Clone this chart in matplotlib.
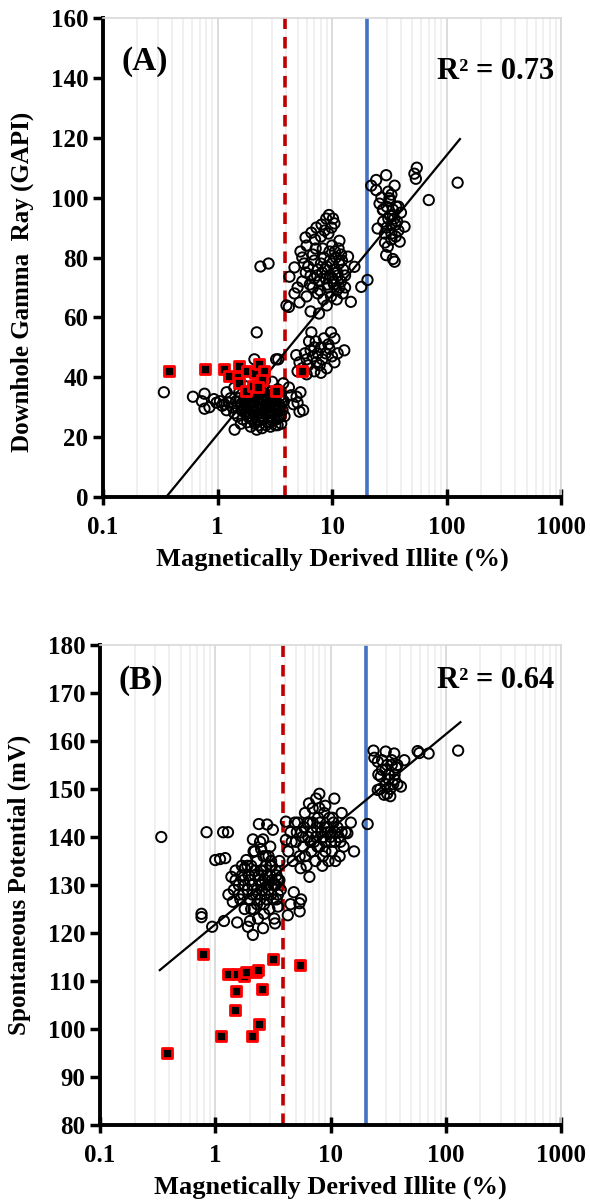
import numpy as np
import matplotlib.pyplot as plt
from matplotlib.ticker import LogLocator, FixedLocator, NullFormatter

plt.rcParams['font.family'] = ['Liberation Serif', 'DejaVu Serif']
plt.rcParams['font.weight'] = 'bold'

# ---- panel A: gamma ray vs illite ----
a_x = [0.34, 0.61, 0.73, 0.77, 0.77, 0.85, 0.93, 0.98, 1.05, 1.1, 1.15, 1.2, 1.25, 1.3, 1.35, 1.4, 1.41,
       1.45, 1.5, 1.5, 1.55, 1.6, 1.62, 1.65, 1.7, 1.72, 1.75, 1.8, 1.82, 1.85, 1.9, 1.92, 1.95, 2.0, 2.0,
       2.05, 2.1, 2.12, 2.15, 2.2, 2.25, 2.28, 2.3, 2.35, 2.4, 2.45, 2.5, 2.5, 2.55, 2.6, 2.65, 2.7, 2.75,
       2.8, 2.85, 2.9, 2.95, 3.0, 3.05, 3.1, 3.15, 3.2, 3.25, 3.3, 3.35, 3.4, 3.5, 3.55, 3.6, 3.7, 3.75,
       3.8, 3.85, 2.0, 1.75, 2.3, 2.6, 3.0, 2.9, 1.2, 1.4, 2.2, 2.45, 1.95,
       1.55, 1.65, 1.75, 1.85, 1.95, 2.05, 2.15, 2.25, 2.35, 2.45, 2.55, 2.65, 2.75, 2.85, 2.95, 3.05,
       3.15, 3.25, 3.35, 3.45, 3.55, 3.65, 1.6, 1.8, 2.0, 2.2, 2.4, 2.6, 2.8, 3.0, 3.2, 3.4, 3.6, 2.1,
       2.5, 2.9, 3.3, 1.9, 2.3, 2.7,
       4.2, 4.4, 4.9, 5.0, 5.3, 5.6, 5.2, 4.6, 3.25, 3.39, 2.1, 2.2, 2.37, 2.79,
       4.87, 5.2, 5.5, 5.8, 6.0, 6.2, 6.5, 6.6, 6.8, 7.0, 7.2, 7.3, 7.5, 7.8, 8.0, 8.2, 8.5, 8.8, 9.0,
       9.3, 9.8, 10.0, 10.5, 11.2, 12.8, 6.0, 5.0, 8.0, 9.5, 10.5, 7.0, 6.3,
       4.0, 4.2, 4.25, 4.7, 4.7, 5.2, 5.0, 5.5, 5.87, 5.5, 5.3, 6.0, 6.2, 6.6, 6.5, 6.8, 7.0, 7.2, 7.5,
       7.7, 7.5, 7.8, 8.0, 8.2, 8.4, 8.5, 8.8, 8.9, 9.0, 9.2, 9.4, 9.5, 9.6, 9.8, 10.0, 10.2, 10.5, 10.5,
       10.8, 11.0, 11.2, 11.6, 11.5, 12.0, 12.5, 13.0, 13.8, 14.6, 15.7, 18.0, 20.4, 6.0, 7.0, 8.0, 9.0,
       10.0, 11.0, 12.0, 6.5, 5.7, 7.3, 8.6, 9.9, 10.2, 13.0,
       6.8, 7.4, 7.9, 8.3, 8.7, 9.1, 9.6, 10.1, 10.6, 11.1, 11.6, 12.2, 7.1, 8.1, 9.3, 10.4, 11.4, 12.4,
       5.9, 6.4,
       22, 24.3, 24.3, 25, 26, 27.8, 28, 29, 29.7, 29.7, 30.7, 31.7, 32, 33, 33, 34, 35.2, 35.2, 36.4,
       37, 38, 39, 40, 43, 34, 31, 36, 30, 27, 33, 28, 30, 32, 34, 36, 29, 31, 35, 38, 33,
       52.4, 54, 55, 70, 125]
a_y = [35, 33.5, 32, 34.5, 29.5, 30, 32.7, 31.5, 32, 30.5, 31, 29, 31.5, 33, 30, 28, 22.5,
       32, 30, 27, 35, 31, 29, 26, 33, 30, 28, 32, 25, 29.5, 31, 27, 34, 30, 26,
       28.5, 32, 24.5, 30, 27.5, 33, 29, 25.5, 31, 28, 35, 30, 26, 32, 28.5, 24, 30, 33,
       27, 29, 25, 31.5, 28, 34, 26, 30, 24, 32, 28.5, 36, 26.5, 30, 34, 24.5, 29, 38,
       32, 27, 36, 37, 37.5, 39, 38.5, 35, 35, 36.5, 22.5, 23, 23.5,
       33, 29, 31, 27, 32, 26, 34, 30, 27, 33, 29, 31, 25, 34, 28, 30,
       33, 29, 24, 31, 27, 32, 24.5, 34, 31.5, 35.5, 29.5, 33.5, 31, 25.5, 35, 29, 33, 37,
       36, 23.5, 26, 28, 24, 35.5,
       36.6, 34, 33.5, 31.5, 35, 29, 28.5, 31, 46, 46, 46, 55, 77, 78,
       47.4, 45, 43, 48, 46, 44, 49, 55, 47, 42, 52, 45, 48, 44, 50, 46, 53, 48, 43,
       51, 55, 47, 45, 48, 49, 41, 42, 41.5, 49.5, 53, 50, 52,
       64, 63.5, 73.6, 76.7, 68, 65, 70, 72, 86.7, 80, 82, 84, 77, 88.3, 74, 70, 79, 83, 68,
       61.3, 76, 72, 87, 75, 66, 80, 73, 93, 77, 70, 94.2, 82, 74, 67, 78, 72, 91.4, 76,
       80, 69, 74, 85.6, 78, 72, 76, 70, 80.3, 65.2, 76.9, 70.2, 72.5, 67, 73, 78, 64,
       84, 66, 81, 62, 78, 90, 89, 90, 93, 74,
       81, 74, 69, 83, 76, 71, 79, 73, 82, 75, 70, 79, 86, 91, 88, 71, 83, 68,
       75, 71,
       104, 105.9, 102.5, 89.7, 98, 95.9, 92, 88, 107.5, 80.8, 83.6, 99.8, 94, 91, 86, 96, 104, 78.6, 97,
       92, 89, 85.3, 95, 90.3, 79.5, 93, 87, 97, 100, 101, 96, 90, 99, 94, 91, 85, 102, 93, 97, 88,
       108, 106.3, 110, 99.2, 105]
a_red_x = [0.38, 0.78, 1.13, 1.27, 1.55, 1.5, 1.53, 1.82, 2.13, 2.31, 2.54, 2.44, 1.77, 2.03, 2.25, 3.21, 5.45]
a_red_y = [42, 42.8, 42.8, 40.4, 43.9, 40.2, 38, 42, 41.5, 44.4, 42, 39, 35.5, 37, 36.6, 35.5, 42.1]
a_fit = (46.6, 20.9)       # y = m*log10(x) + c
a_fit_range = (0.356, 131)

# ---- panel B: spontaneous potential vs illite ----
b_x = [0.34, 0.76, 0.76, 0.84, 0.94, 1.0, 1.1, 1.17, 1.22, 1.29, 1.19,
       1.38, 1.42, 1.45, 1.5, 1.55, 1.6, 1.65, 1.7, 1.75, 1.8, 1.86, 1.9, 1.92, 1.95, 2.0, 2.05, 2.1,
       2.12, 2.12, 2.15, 2.2, 2.25, 2.3, 2.35, 2.39, 2.4, 2.45, 2.5, 2.55, 2.6, 2.62, 2.65, 2.7, 2.75,
       2.8, 2.82, 2.85, 2.9, 2.95, 3.0, 3.05, 3.1, 3.16, 3.2, 3.25, 3.3, 3.35, 3.4, 3.5, 3.6, 3.7, 2.2,
       2.5, 1.8, 3.0, 2.0, 2.6, 2.3, 3.5, 1.3,
       1.5, 1.6, 1.7, 1.8, 1.9, 2.0, 2.1, 2.2, 2.3, 2.4, 2.5, 2.6, 2.7, 2.8, 2.9, 3.0, 3.1, 3.2, 3.3,
       3.4, 3.5, 3.6, 2.15, 2.45, 2.75, 3.05, 3.35, 1.75, 2.05, 2.65,
       4.1, 4.1, 4.26, 5.37, 5.55, 5.4, 6.56, 4.5, 4.8,
       4.3, 4.5, 4.7, 5.0, 5.2, 5.4, 5.6, 5.8, 6.0, 6.2, 6.4, 6.6, 6.8, 7.0, 7.2, 7.4, 7.6, 7.8, 8.0,
       8.0, 8.3, 8.6, 8.8, 9.0, 9.3, 9.6, 9.8, 10.0, 10.3, 10.6, 10.8, 11.0, 11.5, 12.0, 12.5, 13.0,
       14.0, 15.0, 16.0, 21.0, 6.5, 7.5, 9.0, 5.5, 8.5, 11.0, 12.5,
       4.6, 5.1, 5.7, 6.3, 6.9, 7.5, 8.1, 8.7, 9.4, 10.1, 10.9, 11.8, 4.9, 5.9, 6.7, 7.7, 8.9, 10.4,
       12.2, 13.5, 6.0, 7.0, 8.0, 9.0, 10.0,
       23.6, 24, 25.7, 25.7, 27.3, 28, 29.2, 30.1, 30, 31, 32, 33, 34, 35.7, 36, 37, 38, 40.8, 43.7,
       33, 26, 28, 30, 32, 34, 36, 27, 31, 35, 38, 57, 59, 71, 128]
b_y = [140, 124, 123.3, 141, 121.3, 135.2, 135.4, 141, 135.6, 141, 122.5,
       131.7, 126.5, 129, 133, 122.2, 130, 127, 134, 131, 125, 135.2, 129, 121.3, 132, 127, 134, 130,
       139.5, 119.6, 125, 132, 128, 135, 123, 142.7, 131, 127, 133, 129, 139.5, 136, 124, 131, 134,
       127, 142.6, 130, 136, 125, 132, 128, 134, 141.5, 130, 123, 122, 133, 127, 131, 135, 129, 137,
       137.5, 133.5, 138, 122.5, 121, 126, 125.5, 128,
       131, 128, 132, 130, 134, 131, 128, 133, 129, 132, 130, 133, 128, 132, 129, 134, 131, 127, 130,
       132, 128, 131, 137, 139, 136, 135, 130, 128, 125, 126,
       143.2, 139.4, 123.7, 126.2, 127, 124.5, 131.7, 126, 128.5,
       137, 141, 135, 139, 143, 136, 141, 138, 145, 134, 140, 143, 137, 146, 139, 135, 142, 144, 149,
       138, 141, 136, 145, 139, 142, 135, 144, 140, 137, 143, 148, 139, 142, 136, 141, 138,
       140.8, 143, 137, 142.7, 147, 148, 146.5, 133.5, 134, 135, 145,
       139, 141, 140, 143, 141, 140, 143, 140, 141, 139, 141, 140, 143, 142, 139, 138, 142, 144,
       139, 141, 136, 143, 146, 137, 141,
       158, 156.5, 155.7, 149.8, 152.6, 154, 148.8, 157.8, 151, 155, 153, 150, 156, 157.4, 152, 154.5,
       151, 150.5, 156, 148.5, 153, 156, 154, 152, 155, 153, 150, 149, 151, 155,
       157.9, 157.5, 157.4, 158]
b_red_x = [0.38, 0.78, 1.13, 1.28, 1.53, 1.76, 1.83, 2.25, 2.34, 1.5, 1.48, 2.54, 2.39, 2.09, 3.18, 5.44]
b_red_y = [95.1, 115.7, 98.5, 111.5, 111.4, 111.1, 111.9, 111.8, 112.3, 108, 104, 108.3, 101, 98.5, 114.5, 113.3]
b_fit = (19.8, 121.8)
b_fit_range = (0.33, 134)

cutoff_red = 3.9
cutoff_blue = 20.2

fig = plt.figure(figsize=(5.9, 12), dpi=100)
ax1 = fig.add_axes([0.1746, 0.5858, 0.7763, 0.3992])
ax2 = fig.add_axes([0.1695, 0.0625, 0.7814, 0.4000])


def draw_panel(ax, xs, ys, rx, ry, fit, fit_range, ylim, ystep, ylabel, ylabel_y, tag, r2, tag_y, r2_y):
    ax.set_xscale('log')
    ax.set_xlim(0.1, 1000)
    ax.set_ylim(*ylim)
    ax.xaxis.set_minor_locator(LogLocator(base=10, subs=np.arange(2, 10), numticks=50))
    ax.xaxis.set_minor_formatter(NullFormatter())
    ax.set_xticks([0.1, 1, 10, 100, 1000])
    ax.set_xticklabels(['0.1', '1', '10', '100', '1000'])
    ax.yaxis.set_major_locator(FixedLocator(np.arange(ylim[0], ylim[1] + 1, ystep)))
    ax.grid(True, which='major', axis='x', color='#d9d9d9', lw=1.3, zorder=0)
    ax.grid(True, which='minor', axis='x', color='#efefef', lw=1.3, zorder=0)
    ax.grid(False, axis='y')

    for s in ['top', 'right']:
        ax.spines[s].set_color('#d9d9d9')
        ax.spines[s].set_linewidth(1.2)
    for s in ['left', 'bottom']:
        ax.spines[s].set_color('black')
        ax.spines[s].set_linewidth(2.8)
    ax.tick_params(axis='both', which='major', length=7, width=2.5, labelsize=18,
                   direction='out', color='black')
    ax.tick_params(axis='x', which='major', direction='inout', length=12, pad=8)
    ax.tick_params(axis='x', which='minor', length=0)

    ax.axvline(cutoff_red, color='#c00000', lw=2.6, ls=(0, (3.2, 2.2)), zorder=2)
    ax.axvline(cutoff_blue, color='#4472c4', lw=2.6, zorder=2)

    fx = np.array(fit_range)
    ax.plot(fx, fit[0] * np.log10(fx) + fit[1], color='black', lw=1.6, zorder=4)

    ax.scatter(xs, ys, s=55, facecolors='none', edgecolors='black', linewidths=1.4, zorder=3)
    ax.scatter(rx, ry, s=60, marker='s', facecolors='black', edgecolors='red', linewidths=2.0, zorder=5)

    for lab in ax.get_xticklabels() + ax.get_yticklabels():
        lab.set_fontweight('bold')
    ax.set_xlabel('Magnetically Derived Illite (%)', fontsize=19, fontweight='bold', labelpad=6)
    ax.set_ylabel(ylabel, fontsize=18, fontweight='bold', labelpad=10)
    ax.yaxis.set_label_coords(-0.15, ylabel_y)
    ax.text(0.04, tag_y, tag, transform=ax.transAxes, fontsize=24, fontweight='bold', va='center')
    ax.text(0.985, r2_y, r2, transform=ax.transAxes, fontsize=22, fontweight='bold',
            va='center', ha='right')


draw_panel(ax1, a_x, a_y, a_red_x, a_red_y, a_fit, a_fit_range, (0, 160), 20,
           'Downhole Gamma  Ray (GAPI)', 0.45, '(A)', 'R² = 0.73', 0.91, 0.888)
draw_panel(ax2, b_x, b_y, b_red_x, b_red_y, b_fit, b_fit_range, (80, 180), 10,
           'Spontaneous Potential (mV)', 0.5, '(B)', 'R² = 0.64', 0.925, 0.925)

fig.savefig('out.png', dpi=100)
